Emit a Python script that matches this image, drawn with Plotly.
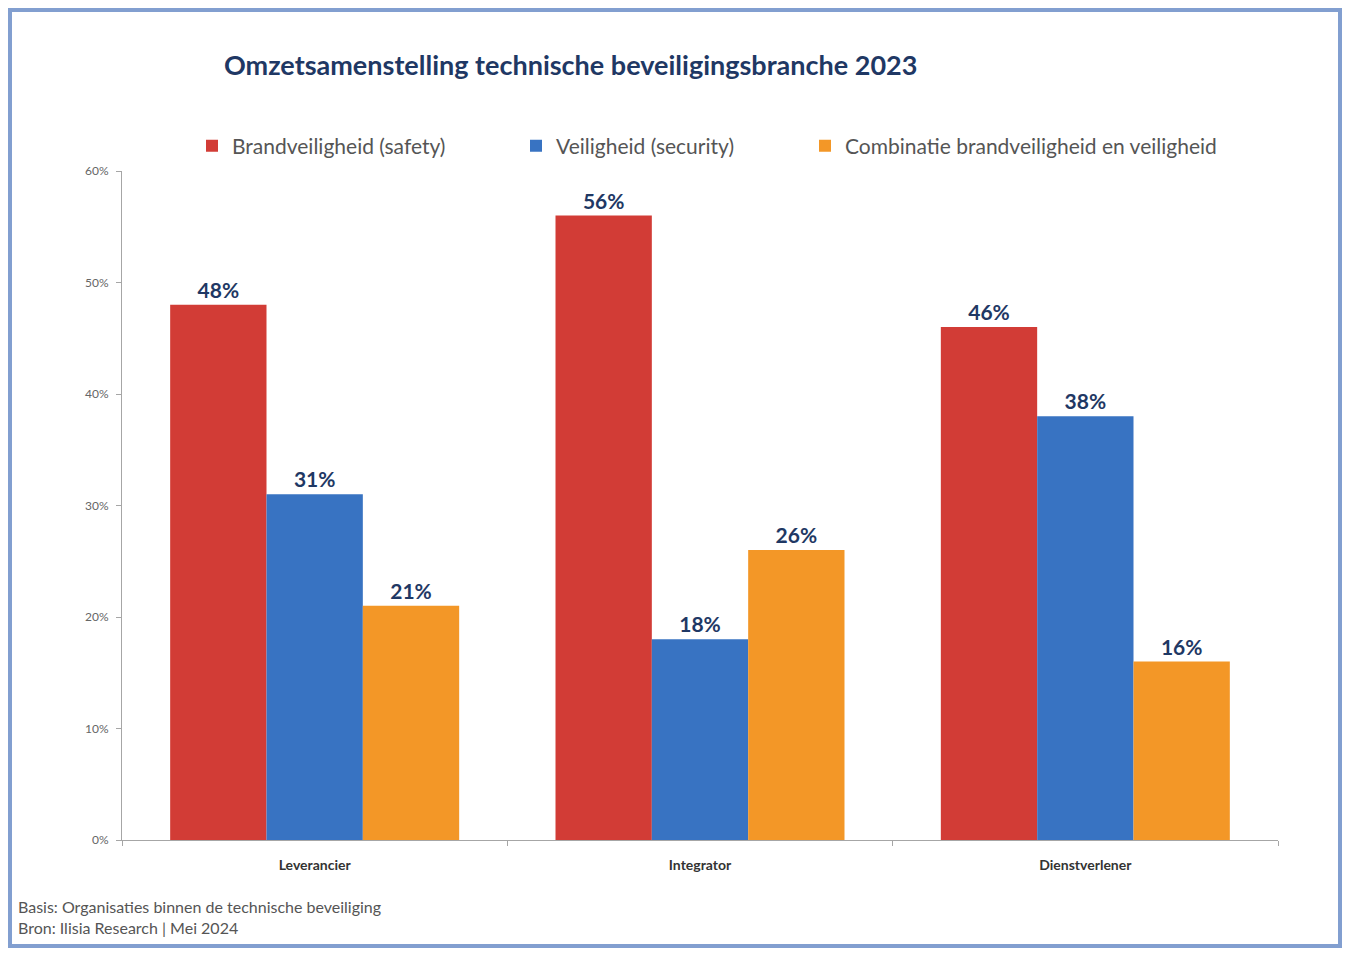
import plotly.graph_objects as go

categories = ["Leverancier", "Integrator", "Dienstverlener"]
series_names = [
    "Brandveiligheid (safety)",
    "Veiligheid (security)",
    "Combinatie brandveiligheid en veiligheid",
]
brand = [48, 56, 46]
veilig = [31, 18, 38]
combi = [21, 26, 16]
y_ticks = [0, 10, 20, 30, 40, 50, 60]

colors = ["#d23c36", "#3873c2", "#f39727"]
navy = "#1f3864"

# page offset of the plot div (body margin)
OFF = 8
W, H = 1350 - 2 * OFF, 956 - 2 * OFF
# plot area in page pixels
L, R, T, B = 122 - OFF, 1278 - OFF, 171 - OFF, 840 - OFF


def px(x):
    return (x - OFF - L) / (R - L)


def py(y):
    return (B - (y - OFF)) / (B - T)


legend_x = [210, 534, 823]
legend_names = ["legend", "legend2", "legend3"]

fig = go.Figure()
for name, vals, col, lg in zip(series_names, [brand, veilig, combi], colors, legend_names):
    fig.add_trace(go.Bar(
        x=categories,
        y=vals,
        name=name,
        legend=lg,
        marker=dict(color=col, line=dict(color=col, width=0)),
        text=[f"{v}%" for v in vals],
        texttemplate="<b>%{text}</b>",
        textposition="outside",
        textfont=dict(family="Lato", size=21, color=navy),
        cliponaxis=False,
    ))

# outer blue frame
fig.add_shape(type="rect", xref="paper", yref="paper",
              x0=px(10), x1=px(1340), y0=py(946), y1=py(10),
              line=dict(color="#829fd0", width=4), layer="below")

fig.add_annotation(text="<b>Omzetsamenstelling technische beveiligingsbranche 2023</b>",
                   xref="paper", yref="paper", x=px(570), y=py(65),
                   xanchor="center", yanchor="middle",
                   showarrow=False, font=dict(family="Lato", size=27, color=navy))

fig.add_annotation(text="Basis: Organisaties binnen de technische beveiliging<br>Bron: Ilisia Research | Mei 2024",
                   xref="paper", yref="paper", x=px(16), y=py(895), xanchor="left", yanchor="top",
                   align="left", showarrow=False,
                   font=dict(family="Lato", size=16, color="#555555"))

legend_style = dict(orientation="h", xanchor="left", yanchor="middle",
                    font=dict(family="Lato", size=21, color="#555555"),
                    itemwidth=30, bgcolor="rgba(0,0,0,0)")

fig.update_layout(
    width=W, height=H,
    margin=dict(l=L, r=W - R, t=T, b=H - B),
    barmode="group",
    bargap=0.25,
    bargroupgap=0,
    plot_bgcolor="white",
    paper_bgcolor="white",
    showlegend=True,
    legend=dict(x=px(legend_x[0] - 18), y=py(146), **legend_style),
    legend2=dict(x=px(legend_x[1] - 18), y=py(146), **legend_style),
    legend3=dict(x=px(legend_x[2] - 18), y=py(146), **legend_style),
    xaxis=dict(showline=True, linecolor="#a6a6a6", linewidth=1,
               ticks="outside", tickson="boundaries", ticklen=5, tickcolor="#a6a6a6",
               tickfont=dict(family="Lato", size=14, color="#333333"),
               tickprefix="<b>", ticksuffix="</b>", ticklabelstandoff=12,
               showgrid=False),
    yaxis=dict(range=[0, 60], tickvals=y_ticks, ticktext=[f"{v}%" for v in y_ticks],
               showline=True, linecolor="#a6a6a6", linewidth=1,
               ticks="outside", ticklen=5, tickcolor="#a6a6a6",
               tickfont=dict(family="Lato", size=12, color="#666666"),
               ticklabelstandoff=5,
               showgrid=False, zeroline=False),
)

fig.write_html("out.html")
